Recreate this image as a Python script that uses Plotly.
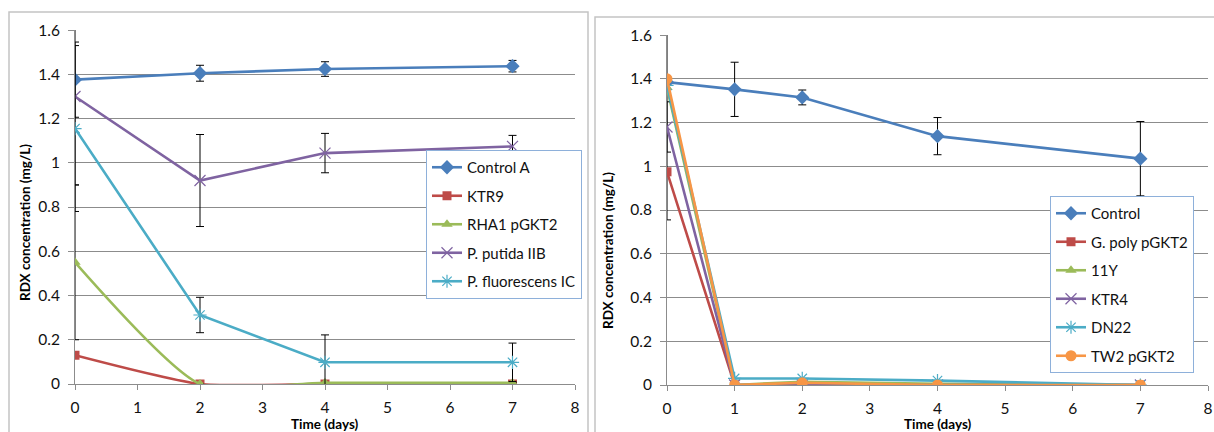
import plotly.graph_objects as go

W, H = 1214, 432

# ---------------- data ----------------
days_left = [0, 2, 4, 7]
control_a = [1.376, 1.405, 1.424, 1.437]
control_a_err = [0.17, 0.036, 0.033, 0.026]
ktr9 = [0.13, 0.0, 0.0, 0.0]
rha1 = [0.55, 0.0, 0.005, 0.005]
rha1_err = [0.35, 0.0, 0.0, 0.0]
putida = [1.30, 0.92, 1.044, 1.074]
putida_err = [0.40, 0.208, 0.089, 0.05]
fluor = [1.155, 0.312, 0.098, 0.098]
fluor_err = [0.375, 0.08, 0.124, 0.087]

days_right = [0, 1, 2, 4, 7]
control = [1.385, 1.352, 1.315, 1.138, 1.035]
control_err = [0.63, 0.124, 0.034, 0.085, 0.17]
gpoly = [0.975, 0.0, 0.0, 0.0, 0.0]
y11 = [1.36, 0.0, 0.015, 0.005, 0.0]
ktr4 = [1.18, 0.0, 0.0, 0.0, 0.0]
ktr4_err = [0.115, 0.0, 0.0, 0.0, 0.0]
dn22 = [1.37, 0.03, 0.03, 0.02, 0.0]
tw2 = [1.40, 0.0, 0.01, 0.0, 0.0]

x_ticks = [0, 1, 2, 3, 4, 5, 6, 7, 8]
y_ticks = [0, 0.2, 0.4, 0.6, 0.8, 1.0, 1.2, 1.4, 1.6]
y_tick_text = ["0", "0.2", "0.4", "0.6", "0.8", "1", "1.2", "1.4", "1.6"]

# ---------------- styling ----------------
FONT = "Lato"
BLUE, RED, GREEN, PURPLE, CYAN, ORANGE = "#4A7EBB", "#BE4B48", "#9BBB59", "#7F63A1", "#4BACC6", "#F79646"
GRID = "#8C8C8C"
TICKFONT = dict(family=FONT, size=15.5, color="#111")


def px_x(p):
    return p / W


def px_y(p):
    return 1 - p / H


fig = go.Figure()


def add(x, y, name, color, symbol, size, xa, ya, legend, err=None, shape="linear", mline=None):
    marker = dict(symbol=symbol, size=size, color=color)
    if mline is not None:
        marker["line"] = dict(color=color, width=mline)
    kw = {}
    if err is not None:
        kw["error_y"] = dict(type="data", array=err, visible=True, color="black", thickness=1, width=4)
    fig.add_trace(go.Scatter(
        x=x, y=y, name=name, mode="lines+markers",
        line=dict(color=color, width=2.6, shape=shape, smoothing=0.6),
        marker=marker, xaxis=xa, yaxis=ya, legend=legend, legendgroup=name, **kw))


# left chart
add(days_left, control_a, "Control A", BLUE, "diamond", 11, "x", "y", "legend", control_a_err)
add(days_left, ktr9, "KTR9", RED, "square", 9, "x", "y", "legend", None, "spline")
add(days_left, rha1, "RHA1 pGKT2", GREEN, "triangle-up", 10, "x", "y", "legend", rha1_err, "spline")
add(days_left, putida, "P. putida IIB", PURPLE, "x-thin-open", 11, "x", "y", "legend", putida_err, "linear", 1.2)
add(days_left, fluor, "P. fluorescens IC", CYAN, "asterisk-open", 11, "x", "y", "legend", fluor_err, "linear", 1.2)

# right chart
add(days_right, control, "Control", BLUE, "diamond", 11, "x2", "y2", "legend2", control_err)
add(days_right, gpoly, "G. poly pGKT2", RED, "square", 9, "x2", "y2", "legend2")
add(days_right, y11, "11Y", GREEN, "triangle-up", 10, "x2", "y2", "legend2")
add(days_right, ktr4, "KTR4", PURPLE, "x-thin-open", 11, "x2", "y2", "legend2", ktr4_err, "linear", 1.2)
add(days_right, dn22, "DN22", CYAN, "asterisk-open", 11, "x2", "y2", "legend2", None, "linear", 1.2)
add(days_right, tw2, "TW2 pGKT2", ORANGE, "circle", 11, "x2", "y2", "legend2")

xaxis_common = dict(range=[0, 8], tickvals=x_ticks, showgrid=False, zeroline=False, automargin=False,
                    showline=True, linecolor=GRID, linewidth=1, ticks="outside", ticklen=5,
                    tickcolor=GRID, tickfont=TICKFONT, ticklabelstandoff=4, fixedrange=True)
yaxis_common = dict(range=[0, 1.6005], tickvals=y_ticks, ticktext=y_tick_text, showgrid=True,
                    gridcolor=GRID, gridwidth=1, zeroline=False, showline=True, linecolor=GRID,
                    linewidth=1, ticks="outside", ticklen=6, tickcolor=GRID, automargin=False,
                    tickfont=TICKFONT, ticklabelstandoff=5, fixedrange=True)

legend_common = dict(bgcolor="white", bordercolor="#8EB0DA", borderwidth=1,
                     font=dict(family=FONT, size=15, color="#111"),
                     xanchor="left", yanchor="top", tracegroupgap=6, itemwidth=30)

TITLEFONT = dict(family=FONT, size=13.5, color="#000")

fig.update_layout(
    width=W, height=H, autosize=False,
    margin=dict(l=0, r=0, t=0, b=0, pad=0, autoexpand=False),
    paper_bgcolor="white", plot_bgcolor="white",
    xaxis=dict(domain=[px_x(75), px_x(575)], anchor="y", **xaxis_common),
    yaxis=dict(domain=[px_y(384), px_y(30)], anchor="x", **yaxis_common),
    xaxis2=dict(domain=[px_x(667), px_x(1208)], anchor="y2", **xaxis_common),
    yaxis2=dict(domain=[px_y(385), px_y(35)], anchor="x2", **yaxis_common),
    legend=dict(x=px_x(426), y=px_y(150), **legend_common),
    legend2=dict(x=px_x(1050), y=px_y(196), **legend_common),
    showlegend=True,
    shapes=[
        dict(type="rect", xref="paper", yref="paper", x0=px_x(9), x1=px_x(588), y0=-0.1, y1=px_y(12),
             line=dict(color="#C4C4C4", width=1.5), layer="below"),
        dict(type="rect", xref="paper", yref="paper", x0=px_x(595), x1=1.05, y0=-0.1, y1=px_y(17),
             line=dict(color="#C4C4C4", width=1.5), layer="below"),
    ],
    annotations=[
        dict(text="<b>RDX concentration (mg/L)</b>", xref="paper", yref="paper", x=px_x(25), y=px_y(223),
             xanchor="center", yanchor="middle", textangle=-90, showarrow=False, font=TITLEFONT),
        dict(text="<b>RDX concentration (mg/L)</b>", xref="paper", yref="paper", x=px_x(608), y=px_y(251),
             xanchor="center", yanchor="middle", textangle=-90, showarrow=False, font=TITLEFONT),
        dict(text="<b>Time (days)</b>", xref="paper", yref="paper", x=px_x(325), y=px_y(424),
             xanchor="center", yanchor="middle", showarrow=False, font=TITLEFONT),
        dict(text="<b>Time (days)</b>", xref="paper", yref="paper", x=px_x(938), y=px_y(424),
             xanchor="center", yanchor="middle", showarrow=False, font=TITLEFONT),
    ],
)

fig.write_html("out.html", config={"responsive": False})
